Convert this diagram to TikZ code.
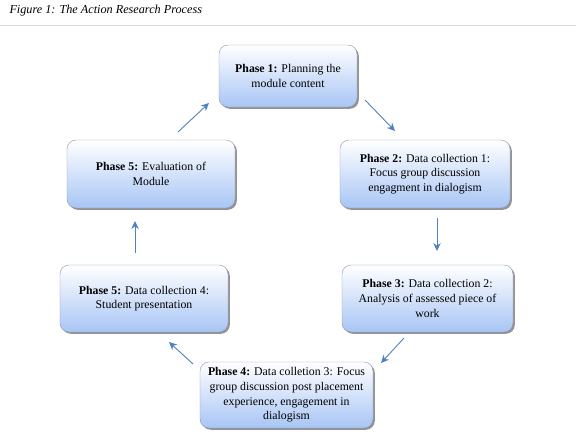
\documentclass[tikz,border=0pt]{standalone}
\usepackage{fontspec}
\setmainfont{Liberation Serif}
\usetikzlibrary{arrows.meta,shadows,calc}
\definecolor{ARblue}{RGB}{79,129,189}
\definecolor{ARlight}{RGB}{168,197,245}
\definecolor{ARedge}{RGB}{140,150,168}

\begin{document}
\begin{tikzpicture}[x=1pt,y=-1pt, every node/.style={font=\fontsize{11.8}{14.6}\selectfont}, phase/.style={draw=ARedge,rounded corners=9pt,top color=white,bottom color=ARlight,align=center,inner sep=2pt,drop shadow={opacity=0.85,shadow xshift=1.8pt,shadow yshift=-1.8pt}}, arr/.style={-{Stealth[length=2.8mm,width=2.6mm]},line width=0.9pt,ARblue}]
\useasboundingbox (0,0) rectangle (576,445);
\node[anchor=west,font=\fontsize{12.2}{14}\selectfont\itshape] (title) at (6,11) {Figure 1: The Action Research Process};
\draw[black!15,line width=0.8pt] (0,25) -- (576,25);
\node[phase,minimum width=138pt,minimum height=62pt] (p1) at (288,76) {\textbf{Phase 1:} Planning the\\module content};
\node[phase,minimum width=170pt,minimum height=68pt] (p2) at (425,174) {\textbf{Phase 2:} Data collection 1:\\Focus group discussion\\engagment in dialogism};
\node[phase,minimum width=171pt,minimum height=67pt] (p3) at (427.5,298.5) {\textbf{Phase 3:} Data collection 2:\\Analysis of assessed piece of\\work};
\node[phase,minimum width=173pt,minimum height=66pt] (p4) at (286.5,395) {\textbf{Phase 4:} Data colletion 3: Focus\\group discussion post placement\\experience, engagement in\\dialogism};
\node[phase,minimum width=168pt,minimum height=67pt] (p5d) at (144,298.5) {\textbf{Phase 5:} Data collection 4:\\Student presentation};
\node[phase,minimum width=168pt,minimum height=68pt] (p5e) at (151,174) {\textbf{Phase 5:} Evaluation of\\Module};
% arrow ends between the boxes
\coordinate (a1) at (365,100); \coordinate (b1) at (395,131);
\coordinate (a2) at (437,218); \coordinate (b2) at (437,251);
\coordinate (a3) at (404,338); \coordinate (b3) at (381,363);
\coordinate (a4) at (193,364); \coordinate (b4) at (169,342);
\coordinate (a5) at (135,253); \coordinate (b5) at (135,221);
\coordinate (a6) at (178,132); \coordinate (b6) at (209,103);
\draw[arr] (a1) -- (b1);
\draw[arr] (a2) -- (b2);
\draw[arr] (a3) -- (b3);
\draw[arr] (a4) -- (b4);
\draw[arr] (a5) -- (b5);
\draw[arr] (a6) -- (b6);
\end{tikzpicture}
\end{document}
